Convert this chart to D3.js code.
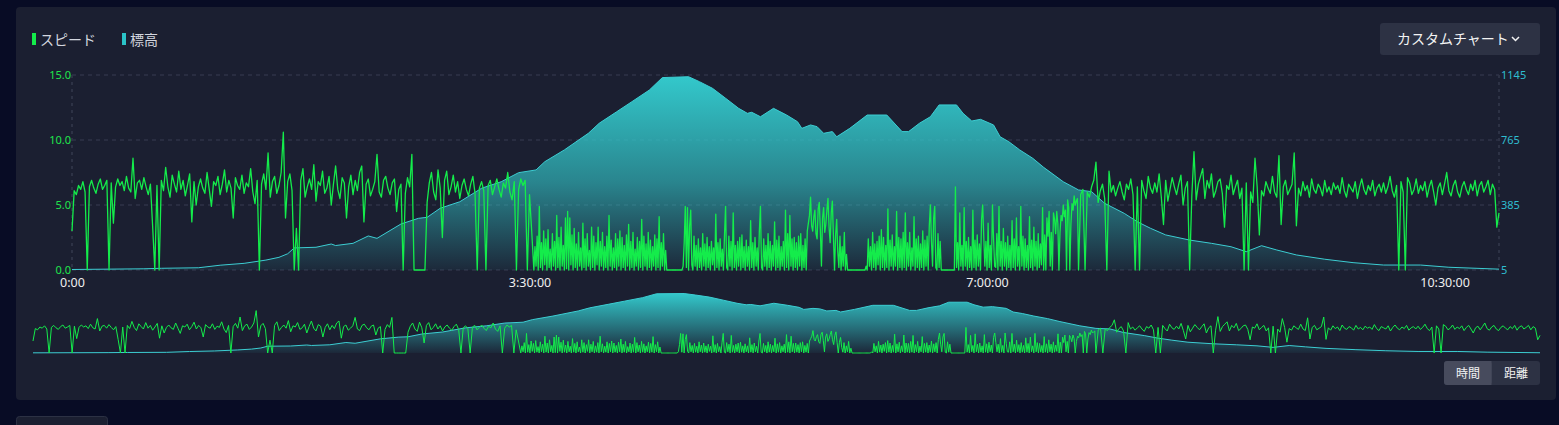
<!DOCTYPE html>
<html><head><meta charset="utf-8">
<script src="https://cdn.jsdelivr.net/npm/d3@7"></script>
<style>
html,body{margin:0;padding:0;background:#080c25;overflow:hidden;}
svg{display:block;font-family:"Noto Sans CJK JP","Noto Sans",sans-serif;}
</style></head><body>
<svg id="chart" width="1559" height="425"></svg>
<script>
// ---- data (minutes from start) ----
const legendLabels = ["スピード", "標高"];
const speedTicks = [0, 5, 10, 15];
const eleTicks = [5, 385, 765, 1145];
const timeTicks = [0, 210, 420, 630];
const timeLabels = ["0:00", "3:30:00", "7:00:00", "10:30:00"];

const eleMinutes = [0,33,41,58,68,79,89,95,99,102,112,119,121,129,136,140,151,159,163,169,178,188,197,205,213,217,226,237,242,250,257,265,271,283,288,294,300,306,310,312,316,322,328,333,335,339,342,345,349,351,357,365,374,381,384,389,394,398,406,409,413,417,423,426,430,435,441,446,455,462,468,474,483,489,495,502,513,523,532,539,546,553,562,575,588,602,619,632,655];
const eleValues = [8,12,15,18,33,44,63,79,100,134,138,157,148,161,204,190,274,307,313,366,404,483,521,574,590,638,707,804,863,930,989,1057,1130,1135,1106,1067,1009,950,921,927,901,950,911,872,833,853,843,804,814,784,833,911,911,814,814,863,901,970,970,921,876,886,853,784,755,707,658,605,521,473,463,395,336,287,249,210,180,161,141,112,147,122,93,68,48,34,34,21,10];

// speed (km/h): 0–211 min one value per minute
const speedClimbStart = [
3.0,6.1,5.8,6.5,6.2,6.8,6.0,0,6.4,6.9,6.3,5.9,6.6,7.0,6.2,6.5,6.9,0,6.7,3.6,
6.4,7.0,6.5,6.8,6.1,7.2,6.3,6.0,8.6,5.5,6.7,6.9,6.2,7.1,6.4,5.8,6.6,3.4,0,6.5,
0,6.9,6.1,7.9,6.4,5.6,7.3,6.6,6.0,7.6,6.2,6.9,5.7,6.5,7.4,3.7,6.8,5.0,6.4,7.0,
6.3,5.9,7.5,6.2,4.9,6.8,6.5,7.2,5.8,6.6,7.7,6.0,6.9,6.3,4.0,7.1,6.5,6.2,7.3,5.9,
6.7,6.4,7.8,6.0,5.1,6.9,0,6.6,7.4,6.2,9.0,5.6,6.8,7.2,5.9,6.5,7.5,10.6,4.0,6.8,
7.4,6.1,0,3.2,0,6.9,7.8,5.6,6.4,7.0,6.2,8.1,5.3,6.8,6.5,7.6,5.9,6.3,7.2,5.0,
6.6,8.0,6.2,5.5,7.1,6.7,4.0,6.4,7.3,5.8,6.9,6.1,7.5,8.0,3.7,6.6,7.0,5.7,6.2,6.8,
8.9,6.0,5.6,6.9,7.2,6.3,5.8,6.7,7.0,4.5,6.2,6.6,0,5.9,7.1,6.4,8.9,0,0,0,
0,0,0,5.2,6.7,7.5,6.0,5.4,7.7,6.3,2.5,6.9,7.6,5.8,6.4,7.3,6.0,6.8,5.5,6.5,
7.0,6.2,5.7,6.6,7.2,5.9,0,6.3,6.8,6.1,0,6.5,6.9,5.8,6.4,7.0,6.2,5.6,6.7,6.3,
7.5,6.0,5.4,6.8,0,6.2,7.0,6.5,6.9,0,5.8,3.0];
// 212–461.5 min, one value per 30 s (mountain section)
const speedMountain = [
0,1.8,0.3,2.6,0,4.9,0.2,2.1,0,3.0,0.4,2.4,0,3.1,0.2,1.6,0,2.8,0.3,2.2,
0,4.2,0.2,2.5,0,3.3,0.3,1.9,0,4.0,0.1,4.5,0,4.0,0.4,2.7,0,3.2,0.2,2.0,
0,2.9,0.3,1.7,0,3.6,0.2,2.4,0,2.8,0.3,1.5,0,3.3,0.2,2.6,0,2.1,0.4,3.3,
0,2.2,0.3,2.9,0,1.8,0.2,2.6,0,4.2,0.3,2.3,0,1.7,0.2,2.8,0,2.4,0.3,3.0,
0,2.5,0.2,1.9,0,2.7,0.3,3.5,0,2.2,0.2,2.9,0,1.6,0.3,2.5,0,2.2,0.2,3.9,
0,2.6,0.3,2.0,0,2.9,0.2,2.3,0,1.8,0.3,2.7,0,2.4,0.2,4.1,0,2.1,0.3,2.8,
0,1.5,0,0,0,0,0,0,0,0,0,0,0,0,0,0,0,0.3,2.1,4.9,
0.2,4.8,0,3.4,4.6,0.4,0,2.6,0.3,1.9,0,2.4,0.2,1.7,0,2.8,0.3,2.0,0,2.5,
0.2,1.8,0,2.2,0.4,1.7,0,4.3,0.2,2.1,0,2.4,0.3,1.6,0,2.7,4.9,0.2,0,2.6,
0.3,2.2,0,4.4,0.2,1.9,0,2.2,0.3,2.5,0,2.7,0.2,1.8,0,2.3,0.3,1.8,0,3.8,
0.2,2.1,0,2.5,0.3,1.7,0,3.0,4.9,0.2,0,2.4,0.3,1.9,0,2.8,0.2,2.2,0,1.9,
0.3,3.7,0,2.3,0.2,2.6,0,1.8,0.3,2.2,0,4.6,0.2,2.8,0,4.2,0.3,2.4,0,2.5,
0.2,2.1,0,2.6,0.3,2.8,0,1.9,0.2,2.4,0,3.0,3.6,4.2,5.6,3.4,3.0,4.1,4.6,2.8,
2.4,4.7,5.2,3.1,0.3,4.0,4.8,2.9,3.5,4.6,5.5,3.3,2.1,4.4,5.3,2.6,0,2.7,3.9,1.4,
0.2,2.6,0,1.8,0.3,2.9,0,1.2,0,0,0,0,0,0,0,0,0,0,0,0,
0,0,0,0,0,0.3,0,2.4,0.3,1.8,0,2.9,0.2,2.0,0,2.2,0.4,2.6,0,3.1,
0.2,2.5,0,1.9,0.2,4.7,0,2.3,0.3,2.7,0,1.8,0.3,4.5,0,2.5,0.2,2.4,0,2.9,
0.2,4.4,0,2.1,0.3,2.9,0,1.7,0.3,4.1,0,2.4,0.2,2.6,0,2.0,0.2,3.0,0,2.3,
0.3,2.6,0,3.4,5.0,2.2,0.3,4.0,4.9,0.2,0,2.8,0.2,2.2,0,0,0,0,0,0,
0,0,0,0,0,0,0,6.4,0.2,2.1,0,4.4,0.3,1.9,0,4.8,0.3,2.2,0,2.5,
0.2,1.8,0,4.6,0.2,2.3,0,2.7,0.3,2.0,0,3.9,5.0,2.6,0.3,2.2,0,3.6,0.2,1.9,
0,5.0,2.4,0.3,0.2,2.8,0,4.9,0.3,2.2,0,3.2,0.3,2.1,0,2.6,0.2,1.9,0,3.8,
0.2,2.4,0,4.0,0.3,1.8,0,4.9,0.3,2.6,0,2.4,0.2,1.9,0,4.1,0.2,2.3,0,3.3,
0.3,2.2,0,2.8,0.2,2.0,0.4,4.8,0,2.7,0,4.0,2.6,4.5,0.3,2.9,0,4.4,3.9,2.8,
4.5,3.6,0,2.9,4.2,3.8,5.0,4.1,4.6,0,5.4,4.8,0,3.5,5.1,4.6,5.7,5.0,5.3,5.5];
// 462–655 min, one value per minute
const speedDescentEnd = [
0,5.8,6.2,0,6.0,5.6,6.4,6.9,8.3,5.2,6.1,6.6,5.5,0,7.6,6.0,6.5,5.7,6.3,6.8,
6.0,5.4,6.6,6.2,7.0,5.8,0,6.4,0,6.9,6.1,5.5,7.2,6.3,5.9,6.7,6.0,7.4,5.6,3.5,
6.9,5.3,6.2,7.1,6.4,5.8,6.6,7.3,5.0,6.3,6.8,0,5.7,9.1,5.4,6.6,7.2,7.8,5.5,6.9,
6.3,7.4,5.6,6.1,6.8,7.0,5.9,3.3,6.5,6.2,7.3,5.8,6.4,6.9,5.5,6.3,0,6.7,0,6.0,
5.2,8.6,6.4,2.7,6.1,5.7,6.8,6.3,5.9,7.2,6.0,5.6,8.8,3.5,6.4,6.9,5.8,6.2,6.6,9.0,
3.4,6.3,5.7,6.8,6.1,6.5,5.6,7.0,6.2,5.9,6.6,6.3,5.7,6.9,6.0,6.4,5.8,6.7,6.2,6.5,
5.9,7.1,6.1,5.6,6.6,6.3,6.0,6.8,5.5,6.4,7.0,6.2,5.8,6.5,6.1,6.9,5.7,6.3,6.6,6.0,
6.7,5.9,6.4,7.2,6.1,5.6,6.5,0,6.8,6.0,0,7.1,6.7,5.8,6.2,7.0,5.9,6.5,6.1,6.8,
5.6,6.4,6.9,6.0,5.0,6.3,6.7,5.8,6.6,7.5,6.1,5.7,6.5,6.9,6.0,5.6,6.4,6.8,6.2,5.8,
6.6,6.1,6.9,5.7,6.5,6.8,6.0,6.4,6.9,5.8,6.6,6.2,3.3,4.4];

const speedData = speedClimbStart.map((v, i) => ({t: i, v}))
  .concat(speedMountain.map((v, i) => ({t: 212 + i * 0.5, v})))
  .concat(speedDescentEnd.map((v, i) => ({t: 462 + i, v})));
const eleData = eleMinutes.map((t, i) => ({t, v: eleValues[i]}));

// ---- colors ----
const GREEN = "#14ec4b", TEAL = "#33c9cc";

const svg = d3.select("#chart");
svg.append("rect").attr("width", 1559).attr("height", 425).attr("fill", "#080c25");
svg.append("rect").attr("x", 16).attr("y", 7).attr("width", 1540).attr("height", 393).attr("rx", 4).attr("fill", "#1b1f31");
svg.append("rect").attr("x", 16.5).attr("y", 416.5).attr("width", 91).attr("height", 20).attr("rx", 3)
  .attr("fill", "#1b1f31").attr("stroke", "#2c3144");

const defs = svg.append("defs");
function grad(id, y0, y1, stops) {
  const g = defs.append("linearGradient").attr("id", id).attr("gradientUnits", "userSpaceOnUse")
    .attr("x1", 0).attr("x2", 0).attr("y1", y0).attr("y2", y1);
  stops.forEach(s => g.append("stop").attr("offset", s[0]).attr("stop-color", TEAL).attr("stop-opacity", s[1]));
}
grad("eleGrad", 75, 270, [[0, 1], [0.55, 0.6], [1, 0.06]]);
grad("miniGrad", 293, 353, [[0, 1], [0.6, 0.45], [1, 0.05]]);

// ---- legend ----
const legend = svg.append("g");
[[32, GREEN, 40], [122, "#2bc3c8", 130]].forEach((d, i) => {
  legend.append("rect").attr("x", d[0]).attr("y", 33).attr("width", 4).attr("height", 12).attr("fill", d[1]);
  legend.append("text").attr("x", d[2]).attr("y", 45).attr("font-size", 14).attr("fill", "#d3d6df").text(legendLabels[i]);
});

// ---- custom chart button ----
svg.append("rect").attr("x", 1380).attr("y", 23).attr("width", 160).attr("height", 32).attr("rx", 3).attr("fill", "#2d3244");
svg.append("text").attr("x", 1397).attr("y", 44).attr("font-size", 14).attr("fill", "#f2f2f2").text("カスタムチャート");
svg.append("path").attr("d", "M1512,37L1515.5,40.5L1519,37").attr("fill", "none").attr("stroke", "#f2f2f2").attr("stroke-width", 1.5);

// ---- main chart ----
const x = d3.scaleLinear().domain([0, 655]).range([72, 1499]);
const yS = d3.scaleLinear().domain([0, 15]).range([270, 75]);
const yE = d3.scaleLinear().domain([5, 1145]).range([270, 75]);

const grid = svg.append("g");
speedTicks.forEach(t => {
  grid.append("line").attr("x1", 72).attr("x2", 1499).attr("y1", yS(t)).attr("y2", yS(t))
    .attr("stroke", "#383d52").attr("stroke-dasharray", "4,4");
});
[72, 1499].forEach(px => grid.append("line").attr("x1", px).attr("x2", px).attr("y1", 75).attr("y2", 270)
  .attr("stroke", "#2d3245").attr("stroke-width", 2).attr("stroke-dasharray", "3,4"));

svg.append("path").datum(eleData).attr("fill", "url(#eleGrad)")
  .attr("d", d3.area().x(d => x(d.t)).y0(yE(5)).y1(d => yE(d.v)));
svg.append("path").datum(eleData).attr("fill", "none").attr("stroke", "#3ccdd2").attr("stroke-width", 1)
  .attr("d", d3.line().x(d => x(d.t)).y(d => yE(d.v)));
svg.append("path").datum(speedData).attr("fill", "none").attr("stroke", GREEN).attr("stroke-width", 1.3)
  .attr("stroke-linejoin", "round")
  .attr("d", d3.line().x(d => x(d.t)).y(d => yS(d.v)));

const axL = svg.append("g").attr("transform", "translate(72,0)")
  .call(d3.axisLeft(yS).tickValues(speedTicks).tickFormat(d => d.toFixed(1)).tickSize(0).tickPadding(1));
axL.select(".domain").remove();
axL.selectAll("text").attr("fill", "#1fe54c").attr("font-size", 11).style("font-family", "'Noto Sans',sans-serif");

const axR = svg.append("g").attr("transform", "translate(1499,0)")
  .call(d3.axisRight(yE).tickValues(eleTicks).tickFormat(d3.format("d")).tickSize(0).tickPadding(2));
axR.select(".domain").remove();
axR.selectAll("text").attr("fill", "#2fbdd0").attr("font-size", 11).style("font-family", "'Noto Sans',sans-serif");

const axB = svg.append("g").attr("transform", "translate(0,270)")
  .call(d3.axisBottom(x).tickValues(timeTicks).tickFormat((d, i) => timeLabels[i]).tickSize(0).tickPadding(8));
axB.select(".domain").remove();
axB.selectAll("text").attr("fill", "#eeeeee").attr("font-size", 12.5).style("font-family", "'Noto Sans',sans-serif");

// ---- overview (data zoom) ----
const xm = d3.scaleLinear().domain([0, 655]).range([33, 1540]);
const ySm = d3.scaleLinear().domain([0, 15]).range([353, 293]);
const yEm = d3.scaleLinear().domain([5, 1145]).range([353, 293]);
svg.append("path").datum(eleData).attr("fill", "url(#miniGrad)")
  .attr("d", d3.area().x(d => xm(d.t)).y0(353).y1(d => yEm(d.v)));
svg.append("path").datum(eleData).attr("fill", "none").attr("stroke", "#3ccdd2").attr("stroke-width", 1)
  .attr("d", d3.line().x(d => xm(d.t)).y(d => yEm(d.v)));
svg.append("path").datum(speedData).attr("fill", "none").attr("stroke", GREEN).attr("stroke-width", 1)
  .attr("d", d3.line().x(d => xm(d.t)).y(d => ySm(d.v)));

// ---- time / distance toggle ----
svg.append("rect").attr("x", 1444).attr("y", 361).attr("width", 96).attr("height", 24).attr("rx", 3).attr("fill", "#2d3244");
svg.append("rect").attr("x", 1444).attr("y", 361).attr("width", 47.5).attr("height", 24).attr("rx", 3).attr("fill", "#474b5d");
svg.append("rect").attr("x", 1486).attr("y", 361).attr("width", 5.5).attr("height", 24).attr("fill", "#474b5d");
[["時間", 1468], ["距離", 1516]].forEach(d => {
  svg.append("text").attr("x", d[1]).attr("y", 377.5).attr("text-anchor", "middle").attr("font-size", 12)
    .attr("fill", "#f2f2f2").text(d[0]);
});
</script>
</body></html>
